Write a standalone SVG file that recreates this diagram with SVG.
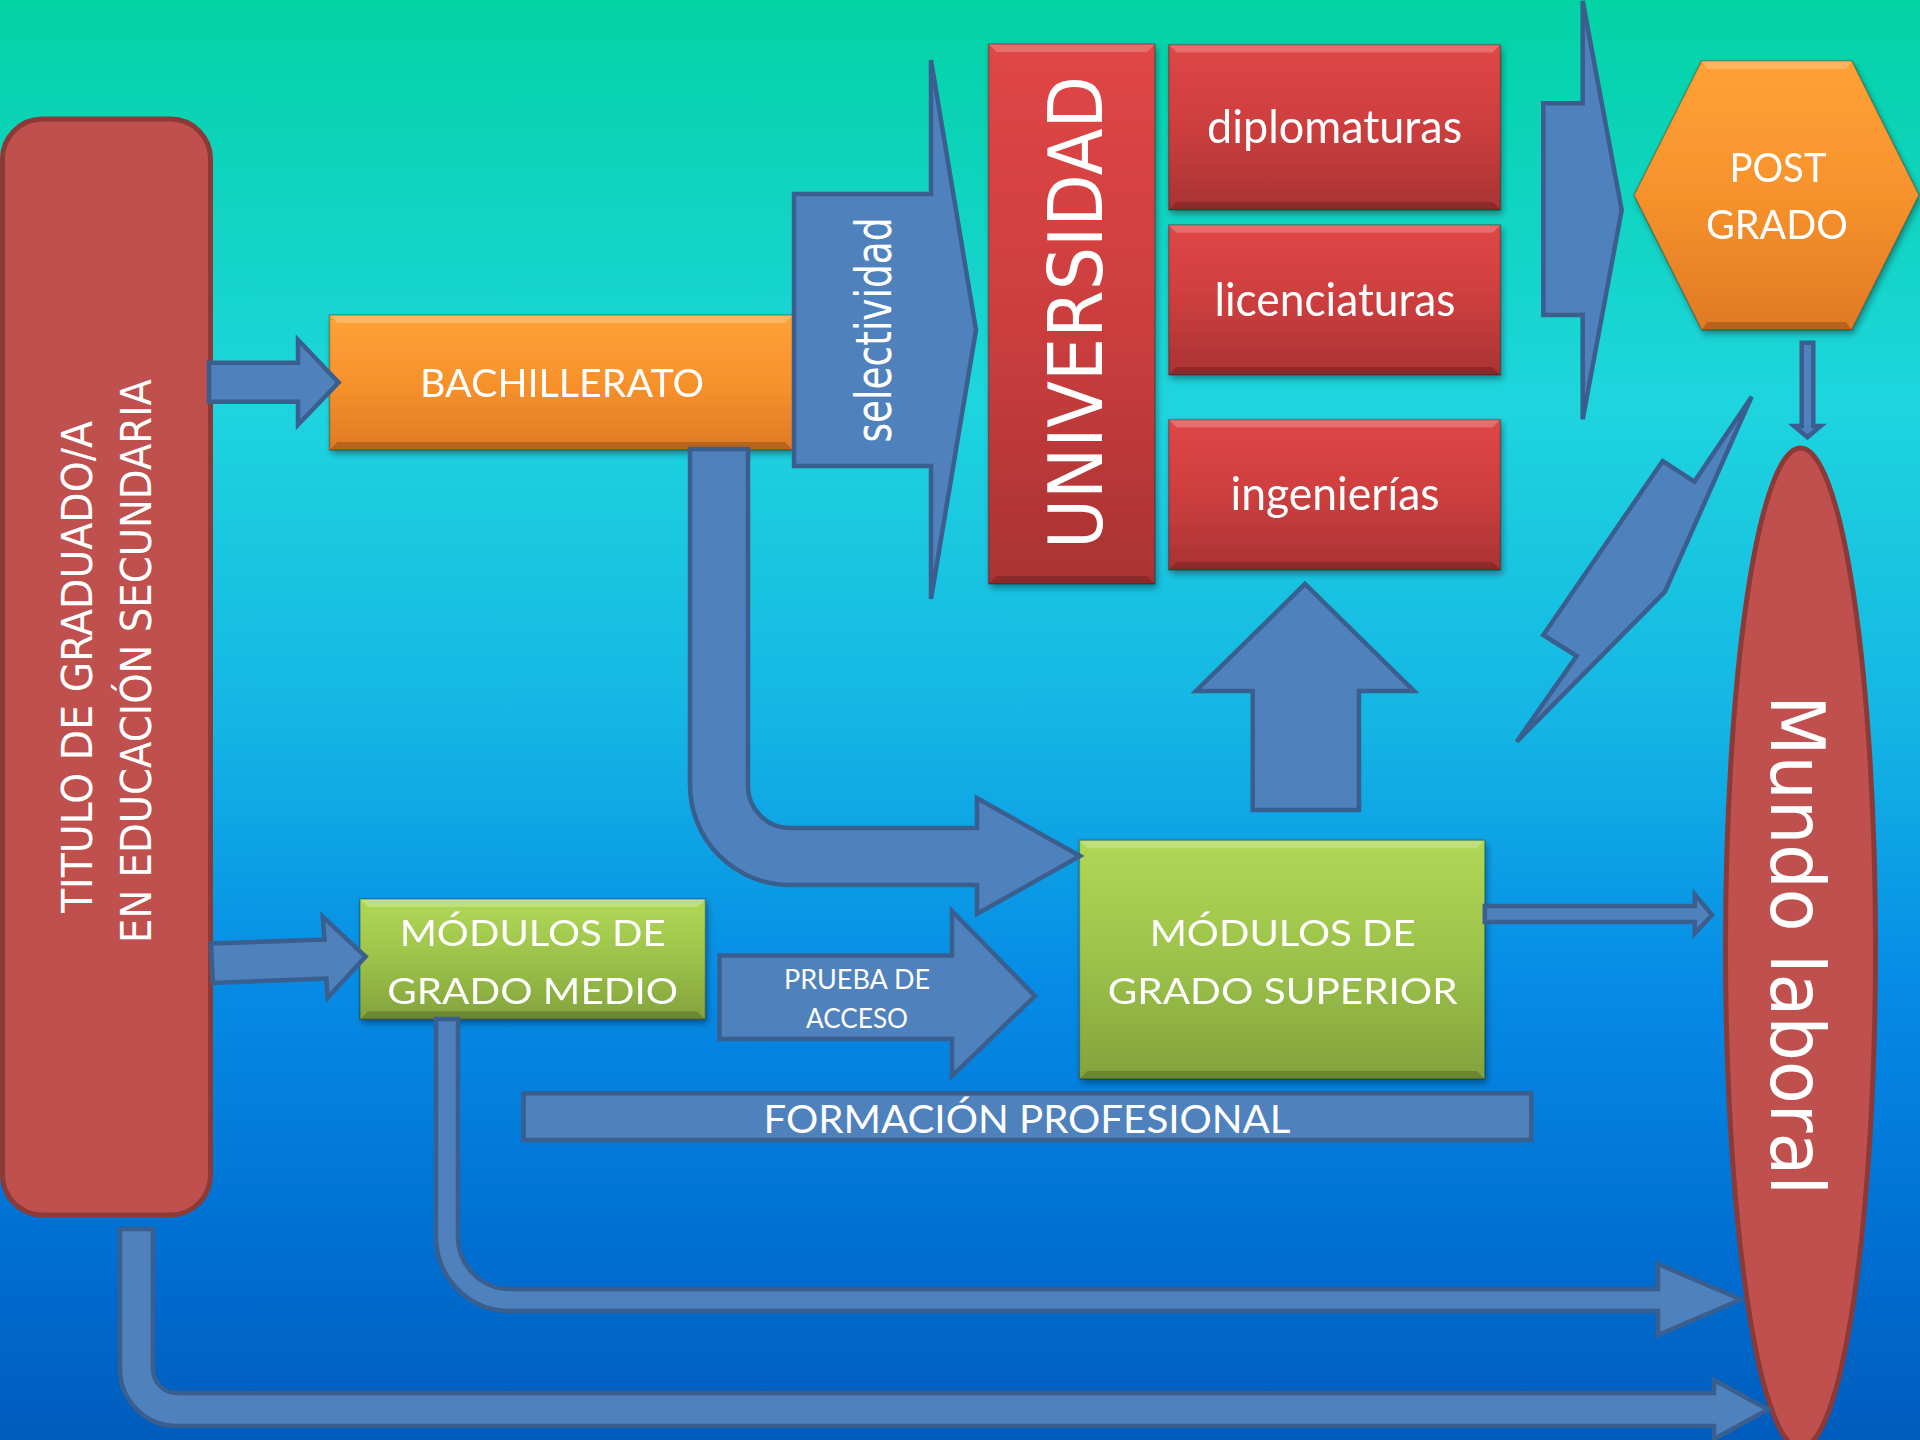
<svg xmlns="http://www.w3.org/2000/svg" width="1920" height="1440" viewBox="0 0 1920 1440">
<defs>
<linearGradient id="bg" x1="0" y1="0" x2="0" y2="1">
<stop offset="0" stop-color="#02D3A4"/>
<stop offset="0.28" stop-color="#1ED5DE"/>
<stop offset="0.5" stop-color="#14B6E4"/>
<stop offset="0.68" stop-color="#068CE6"/>
<stop offset="0.86" stop-color="#0070D2"/>
<stop offset="1" stop-color="#005CBD"/>
</linearGradient>
<linearGradient id="gOrange" x1="0" y1="0" x2="0" y2="1">
<stop offset="0" stop-color="#FFA136"/>
<stop offset="0.5" stop-color="#F7922C"/>
<stop offset="1" stop-color="#DF7A26"/>
</linearGradient>
<linearGradient id="gRed" x1="0" y1="0" x2="0" y2="1">
<stop offset="0" stop-color="#E04646"/>
<stop offset="0.5" stop-color="#CD3E3E"/>
<stop offset="1" stop-color="#A93333"/>
</linearGradient>
<linearGradient id="gGreen" x1="0" y1="0" x2="0" y2="1">
<stop offset="0" stop-color="#B0D856"/>
<stop offset="0.5" stop-color="#9CC24A"/>
<stop offset="1" stop-color="#83A33C"/>
</linearGradient>
<filter id="sh" x="-10%" y="-10%" width="130%" height="130%">
<feDropShadow dx="2" dy="4" stdDeviation="3" flood-color="#000" flood-opacity="0.35"/>
</filter>
<style>
.conn{fill:#4F81BD;stroke:#3A5F8E;stroke-width:4.5;stroke-linejoin:miter}
.flat{fill:#C0504D;stroke:#8C3A38;stroke-width:5}
.hl{fill:#FFFFFF;opacity:0.22}
.dk{fill:#000000;opacity:0.18}
.edge{fill:none;stroke:#000;stroke-opacity:0.25;stroke-width:1.5}
.tc{font-family:Lato,"Open Sans","Liberation Sans",sans-serif;fill:#FFFFFF;text-anchor:middle}
.tv{font-family:"DejaVu Sans",Verdana,"Liberation Sans",sans-serif;fill:#FFFFFF;text-anchor:middle}
</style>
</defs>
<rect x="0" y="0" width="1920" height="1440" fill="url(#bg)"/>

<g id="titulo">
<rect class="flat" x="2.5" y="119" width="208" height="1096" rx="40" ry="40"/>
<text class="tv" font-size="43" transform="translate(92.4,667) rotate(-90)" textLength="492" lengthAdjust="spacingAndGlyphs">TITULO DE GRADUADO/A</text>
<text class="tv" font-size="43" transform="translate(151,661) rotate(-90)" textLength="564" lengthAdjust="spacingAndGlyphs">EN EDUCACIÓN SECUNDARIA</text>
</g>

<g id="bachillerato" filter="url(#sh)">
<rect x="329.5" y="315" width="463.5" height="135" fill="url(#gOrange)"/>
<polygon class="hl" points="329.5,315 793,315 785,323 337.5,323"/>
<polygon class="dk" points="329.5,450 793,450 785,442 337.5,442"/>
<rect class="edge" x="329.5" y="315" width="463.5" height="135"/>
<text class="tc" x="562" y="397" font-size="38" textLength="284" lengthAdjust="spacingAndGlyphs">BACHILLERATO</text>
</g>

<g id="universidad" filter="url(#sh)">
<rect x="988.5" y="44" width="166.5" height="540" fill="url(#gRed)"/>
<polygon class="hl" points="988.5,44 1155,44 1147,52 996.5,52"/>
<polygon class="dk" points="988.5,584 1155,584 1147,576 996.5,576"/>
<rect class="edge" x="988.5" y="44" width="166.5" height="540"/>
<text class="tv" font-size="75" transform="translate(1101.7,312.5) rotate(-90)" textLength="473" lengthAdjust="spacingAndGlyphs">UNIVERSIDAD</text>
</g>

<g id="diplomaturas" filter="url(#sh)">
<rect x="1168.7" y="44.6" width="331.8" height="165.4" fill="url(#gRed)"/>
<polygon class="hl" points="1168.7,44.6 1500.5,44.6 1492.5,52.6 1176.7,52.6"/>
<polygon class="dk" points="1168.7,210 1500.5,210 1492.5,202 1176.7,202"/>
<rect class="edge" x="1168.7" y="44.6" width="331.8" height="165.4"/>
<text class="tc" x="1334.6" y="142.6" font-size="46" textLength="255" lengthAdjust="spacingAndGlyphs">diplomaturas</text>
</g>

<g id="licenciaturas" filter="url(#sh)">
<rect x="1168.7" y="224.8" width="331.8" height="150.1" fill="url(#gRed)"/>
<polygon class="hl" points="1168.7,224.8 1500.5,224.8 1492.5,232.8 1176.7,232.8"/>
<polygon class="dk" points="1168.7,374.9 1500.5,374.9 1492.5,366.9 1176.7,366.9"/>
<rect class="edge" x="1168.7" y="224.8" width="331.8" height="150.1"/>
<text class="tc" x="1335" y="315.5" font-size="46" textLength="241" lengthAdjust="spacingAndGlyphs">licenciaturas</text>
</g>

<g id="ingenierias" filter="url(#sh)">
<rect x="1168.7" y="419.6" width="331.8" height="150.4" fill="url(#gRed)"/>
<polygon class="hl" points="1168.7,419.6 1500.5,419.6 1492.5,427.6 1176.7,427.6"/>
<polygon class="dk" points="1168.7,570 1500.5,570 1492.5,562 1176.7,562"/>
<rect class="edge" x="1168.7" y="419.6" width="331.8" height="150.4"/>
<text class="tc" x="1335" y="510" font-size="46" textLength="209" lengthAdjust="spacingAndGlyphs">ingenierías</text>
</g>

<g id="postgrado" filter="url(#sh)">
<polygon points="1701.7,60.7 1851.7,60.7 1919,195 1851.7,330 1701.7,330 1634,195" fill="url(#gOrange)"/>
<polygon class="hl" points="1701.7,60.7 1851.7,60.7 1846,69 1707.4,69"/>
<polygon class="dk" points="1701.7,330 1851.7,330 1846,322 1707.4,322"/>
<polygon class="edge" points="1701.7,60.7 1851.7,60.7 1919,195 1851.7,330 1701.7,330 1634,195"/>
<text class="tc" x="1778" y="181.7" font-size="40" textLength="97" lengthAdjust="spacingAndGlyphs">POST</text>
<text class="tc" x="1777" y="239.3" font-size="40" textLength="142" lengthAdjust="spacingAndGlyphs">GRADO</text>
</g>

<g id="mundo-laboral">
<ellipse class="flat" cx="1800.5" cy="948" rx="75" ry="500"/>
<text class="tv" font-size="74" transform="translate(1771,945) rotate(90)" textLength="500" lengthAdjust="spacingAndGlyphs">Mundo laboral</text>
</g>

<g id="grado-medio" filter="url(#sh)">
<rect x="360" y="899" width="345.4" height="120.4" fill="url(#gGreen)"/>
<polygon class="hl" points="360,899 705.4,899 697.4,907 368,907"/>
<polygon class="dk" points="360,1019.4 705.4,1019.4 697.4,1011.4 368,1011.4"/>
<rect class="edge" x="360" y="899" width="345.4" height="120.4"/>
<text class="tc" x="532.7" y="946" font-size="36.5" textLength="266" lengthAdjust="spacingAndGlyphs">MÓDULOS DE</text>
<text class="tc" x="532.7" y="1003.7" font-size="36.5" textLength="291" lengthAdjust="spacingAndGlyphs">GRADO MEDIO</text>
</g>

<g id="grado-superior" filter="url(#sh)">
<rect x="1079.4" y="840.3" width="405.4" height="238.7" fill="url(#gGreen)"/>
<polygon class="hl" points="1079.4,840.3 1484.8,840.3 1476.8,848.3 1087.4,848.3"/>
<polygon class="dk" points="1079.4,1079 1484.8,1079 1476.8,1071 1087.4,1071"/>
<rect class="edge" x="1079.4" y="840.3" width="405.4" height="238.7"/>
<text class="tc" x="1282.7" y="946" font-size="36.5" textLength="266" lengthAdjust="spacingAndGlyphs">MÓDULOS DE</text>
<text class="tc" x="1282.7" y="1003.7" font-size="36.5" textLength="350" lengthAdjust="spacingAndGlyphs">GRADO SUPERIOR</text>
</g>

<g id="formacion-profesional">
<rect class="conn" x="523.6" y="1093.3" width="1007.7" height="46.7"/>
<text class="tc" x="1027" y="1133" font-size="38" textLength="527" lengthAdjust="spacingAndGlyphs">FORMACIÓN PROFESIONAL</text>
</g>

<g id="connectors">
<polygon class="conn" points="209,362.7 298,362.7 298,339.8 338.6,382.5 298,424.7 298,401.7 209,401.7"/>
<polygon class="conn" points="211,943.6 324.5,939.5 322.7,916.5 365.6,956.5 327.6,997.8 326.4,978.5 213,983"/>
<path class="conn" d="M690,449 L690,785 A100,100 0 0 0 790,885 L977,885 L977,914 L1080,856 L977,798 L977,828 L790,828 A42,42 0 0 1 748,786 L748,449 Z"/>
<path class="conn" d="M436,1019 L436,1237 A74,74 0 0 0 510,1311 L1658,1311 L1658,1335 L1741,1299.5 L1658,1264 L1658,1289 L510,1289 A52,52 0 0 1 458,1237 L458,1019 Z"/>
<path class="conn" d="M120,1229 L120,1369 A57,57 0 0 0 177,1426 L1714,1426 L1714,1439 L1768,1409.5 L1714,1380 L1714,1393 L177,1393 A24,24 0 0 1 153,1369 L153,1229 Z"/>
<g id="prueba-acceso">
<polygon class="conn" points="719.5,955.5 952,955.5 952,911 1035,996 952,1076 952,1039 719.5,1039"/>
<text class="tc" x="857" y="988.6" font-size="27" textLength="146" lengthAdjust="spacingAndGlyphs">PRUEBA DE</text>
<text class="tc" x="857" y="1027.6" font-size="27" textLength="102" lengthAdjust="spacingAndGlyphs">ACCESO</text>
</g>
<g id="selectividad">
<polygon class="conn" points="794,194 931,194 931,60 976,330 931,599 931,466 794,466"/>
<text class="tv" font-size="49" transform="translate(891,330) rotate(-90)" textLength="225" lengthAdjust="spacingAndGlyphs">selectividad</text>
</g>
<polygon class="conn" points="1252.7,810 1252.7,691 1196,691 1305,584 1414,691 1359,691 1359,810"/>
<polygon class="conn" points="1543.3,103.3 1582.7,103.3 1582.7,1 1621.7,210 1582.7,419.3 1582.7,315 1543.3,315"/>
<polygon class="conn" points="1801.7,342.7 1813.3,342.7 1813.3,426 1820.7,426 1807.5,437.3 1794,426 1801.7,426"/>
<polygon class="conn" points="1484.8,906 1694.8,906 1694.8,894.5 1712,915 1694.8,933.5 1694.8,922 1484.8,922"/>
<polygon class="conn" points="1751.7,396.7 1694.3,481.7 1662.7,461 1543.3,635 1576.7,656 1516.7,741.7 1665,591.7"/>
</g>
</svg>
